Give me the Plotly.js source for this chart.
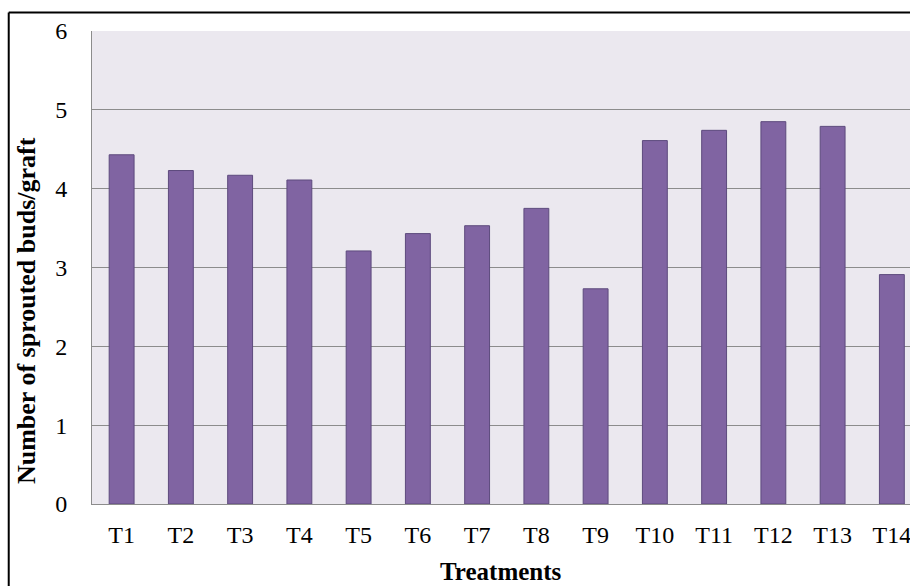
<!DOCTYPE html>
<html>
<head>
<meta charset="utf-8">
<script src="https://cdn.plot.ly/plotly-3.0.1.min.js"></script>
<style>
html,body{margin:0;padding:0;background:#fff;}
#chart{width:910px;height:586px;}
</style>
</head>
<body>
<div id="chart"></div>
<script>
const treatments = ["T1","T2","T3","T4","T5","T6","T7","T8","T9","T10","T11","T12","T13","T14"];
const sproutedBuds = [4.43,4.23,4.17,4.11,3.21,3.43,3.53,3.75,2.73,4.61,4.74,4.85,4.79,2.91];
const yTicks = [0,1,2,3,4,5,6];

const serif = "'Liberation Serif','Times New Roman',Times,serif";

const trace = {
  type: 'bar',
  x: treatments,
  y: sproutedBuds,
  width: 0.42,
  marker: {color: '#8064A2', line: {color: '#5D4A7D', width: 1}},
  hoverinfo: 'x+y'
};

const layout = {
  width: 910, height: 586,
  margin: {l: 92, r: 0, t: 30.5, b: 81.5},
  paper_bgcolor: '#ffffff',
  plot_bgcolor: '#EBE8EF',
  showlegend: false,
  xaxis: {
    type: 'category',
    range: [-0.5, 13.306],
    showgrid: false,
    showline: true, linecolor: '#8C8C8C', linewidth: 1,
    ticks: '',
    tickfont: {family: serif, size: 24, color: '#000'},
    ticklabelstandoff: 9,
    fixedrange: true
  },
  yaxis: {
    range: [0, 6],
    tickvals: yTicks,
    ticktext: yTicks.map(String),
    showgrid: true, gridcolor: '#8C8C8C', gridwidth: 1,
    showline: true, linecolor: '#8C8C8C', linewidth: 1,
    zeroline: false,
    ticks: '',
    tickfont: {family: serif, size: 24, color: '#000'},
    ticklabelstandoff: 19,
    fixedrange: true
  },
  annotations: [
    {text: '<b>Number of sprouted buds/graft</b>', xref: 'paper', yref: 'paper',
     x: -0.0807, y: 0.41, xanchor: 'center', yanchor: 'middle', textangle: -90,
     showarrow: false, font: {family: serif, size: 26, color: '#000'}},
    {text: '<b>Treatments</b>', xref: 'paper', yref: 'paper',
     x: 0.5, y: -0.1424, xanchor: 'center', yanchor: 'middle',
     showarrow: false, font: {family: serif, size: 25, color: '#000'}}
  ],
  shapes: [
    {type: 'line', xref: 'paper', yref: 'paper', x0: -0.1018, x1: -0.1018, y0: -0.3, y1: 1.039,
     line: {color: '#000', width: 2}},
    {type: 'line', xref: 'paper', yref: 'paper', x0: -0.1018, x1: 1.1, y0: 1.039, y1: 1.039,
     line: {color: '#000', width: 2}}
  ]
};

Plotly.newPlot('chart', [trace], layout, {displayModeBar: false, staticPlot: true});
</script>
</body>
</html>
